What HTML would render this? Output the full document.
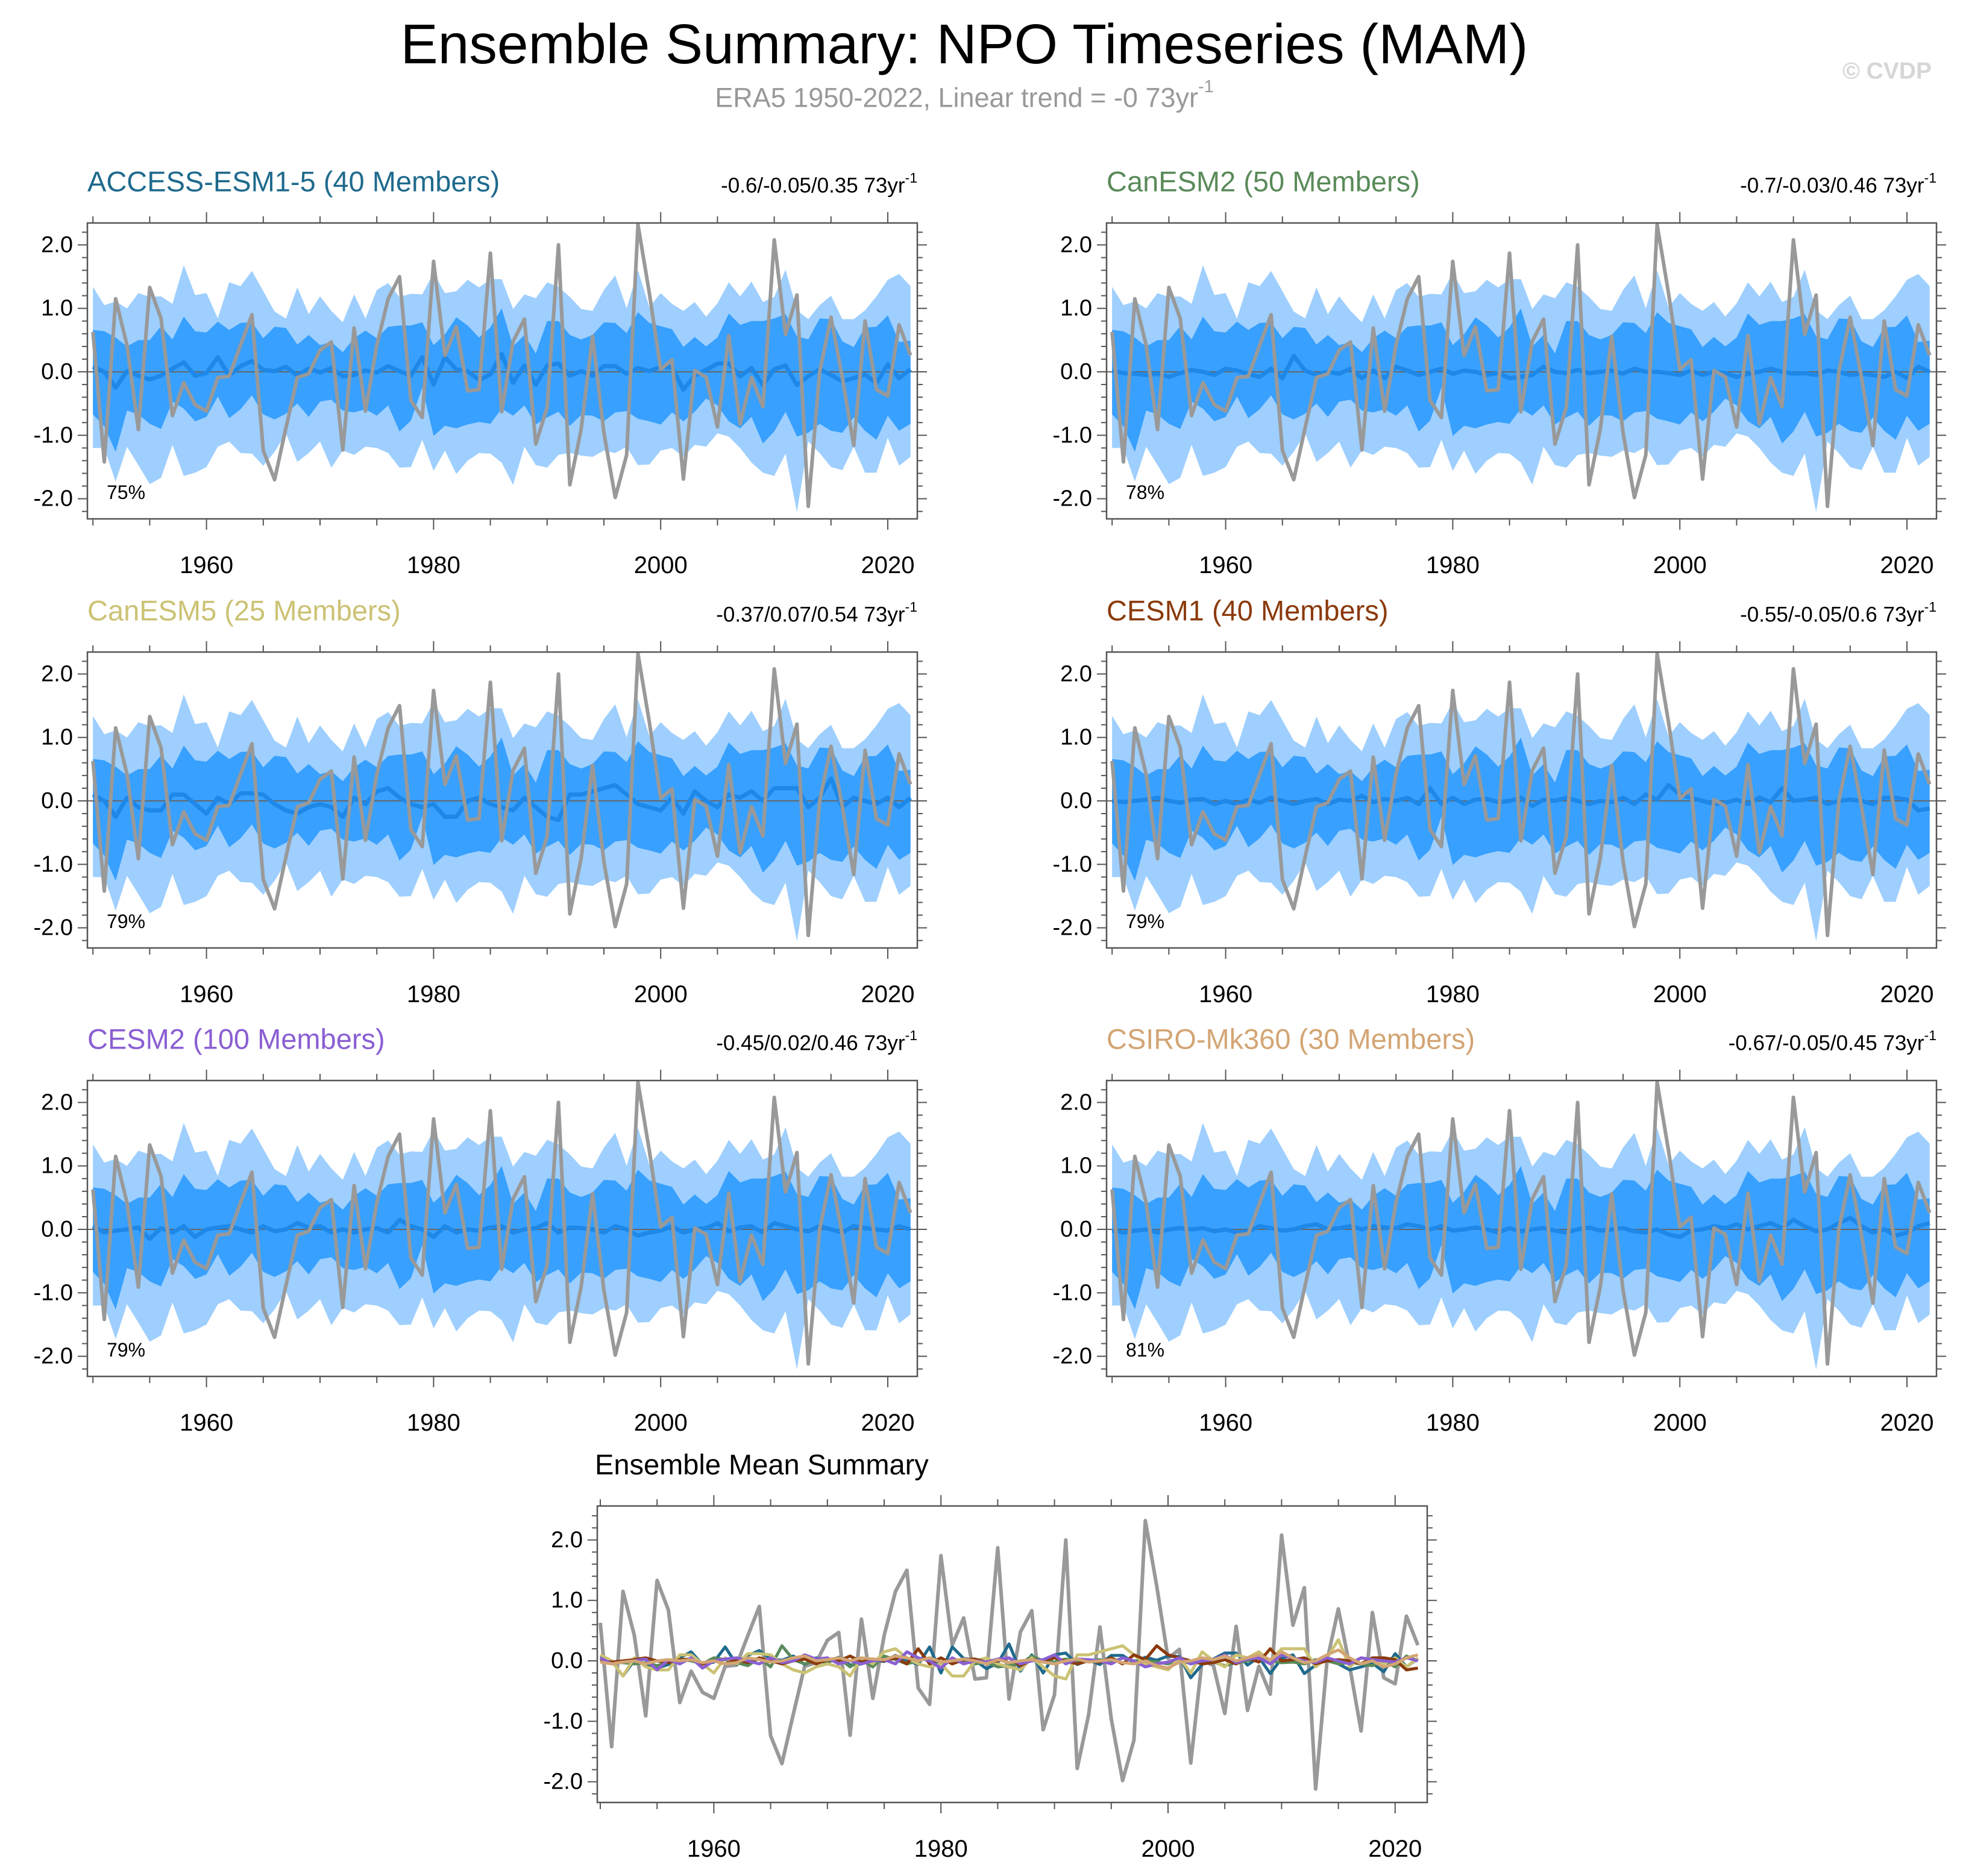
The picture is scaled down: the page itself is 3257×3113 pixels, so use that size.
<!DOCTYPE html>
<html><head><meta charset="utf-8"><style>
html,body{margin:0;padding:0;background:#fff;}
svg{display:block;font-family:"Liberation Sans",Arial,sans-serif;}
</style></head><body>
<svg id="chart" width="3257" height="3113" viewBox="0 0 3257 3113" xmlns="http://www.w3.org/2000/svg">
<rect width="3257" height="3113" fill="#fff"/>
<text x="1600" y="73" font-size="93" text-anchor="middle" dominant-baseline="central" fill="#000">Ensemble Summary: NPO Timeseries (MAM)</text>
<text x="1600" y="162" font-size="45" text-anchor="middle" dominant-baseline="central" fill="#999">ERA5 1950-2022, Linear trend = -0 73yr<tspan dy="-18" font-size="29">-1</tspan></text>
<text x="3205" y="118" font-size="39" font-weight="bold" text-anchor="end" dominant-baseline="central" fill="#d6d6d6">© CVDP</text>
<g id="plots"></g>
</svg>
<script>
const years = [];
for (let yr = 1950; yr <= 2022; yr++) years.push(yr);
const era5 = [0.63,-1.42,1.15,0.42,-0.91,1.33,0.84,-0.69,-0.17,-0.52,
-0.62,-0.09,-0.07,0.42,0.90,-1.24,-1.70,-0.88,-0.09,-0.03,
0.34,0.47,-1.23,0.69,-0.62,0.42,1.15,1.50,-0.45,-0.72,
1.74,0.26,0.71,-0.30,-0.28,1.87,-0.63,0.48,0.83,-1.14,
-0.56,2.00,-1.78,-0.9,0.56,-0.96,-1.98,-1.31,2.32,1.24,
0.04,0.19,-1.69,0.02,-0.08,-0.87,0.57,-0.82,-0.09,-0.55,
2.08,0.59,1.21,-2.12,0.0,0.86,-0.09,-1.16,0.80,-0.28,
-0.38,0.74,0.26];
const bandOuterHi = [1.34,1.05,1.11,1.0,1.24,1.18,1.19,1.07,1.68,1.21,1.24,0.84,1.41,1.35,1.59,1.27,0.95,0.84,1.33,0.91,1.19,0.96,0.78,1.22,0.84,1.29,1.40,1.18,1.23,1.22,1.56,1.24,1.27,1.45,1.33,1.46,1.46,
0.99,1.22,1.16,1.41,1.34,1.18,0.99,0.96,1.29,1.52,1.0,1.60,1.02,1.24,1.07,0.96,1.10,0.87,1.08,1.41,1.19,1.42,1.10,1.18,1.61,0.97,0.83,1.05,1.20,0.83,0.83,0.97,1.19,1.45,1.54,1.35];
const bandOuterLo = [-1.20,-1.20,-1.73,-1.18,-1.47,-1.77,-1.67,-1.15,-1.64,-1.59,-1.50,-1.18,-1.10,-1.28,-1.29,-1.48,-1.26,-0.97,-1.42,-1.28,-1.10,-1.51,-1.24,-1.31,-1.18,-1.20,-1.28,-1.51,-1.50,-1.07,-1.56,-1.24,-1.61,-1.40,-1.28,-1.29,-1.43,
-1.78,-1.18,-1.47,-1.51,-1.31,-1.28,-1.32,-1.34,-1.24,-1.28,-1.18,-1.47,-1.46,-1.24,-1.20,-1.34,-1.15,-1.18,-0.97,-1.02,-1.20,-1.43,-1.59,-1.64,-1.29,-2.21,-1.10,-1.28,-1.50,-1.55,-1.18,-1.59,-1.59,-1.04,-1.48,-1.34];
const bandInnerHi = [0.66,0.64,0.54,0.40,0.50,0.50,0.72,0.51,0.87,0.64,0.62,0.79,0.66,0.77,0.78,0.53,0.71,0.69,0.43,0.58,0.42,0.47,0.31,0.53,0.65,0.53,0.71,0.73,0.73,0.78,0.42,0.59,0.86,0.73,0.54,0.70,1.0,
0.40,0.58,0.29,0.80,0.80,0.58,0.51,0.58,0.78,0.77,0.61,0.94,0.77,0.72,0.67,0.39,0.55,0.40,0.54,0.92,0.74,0.80,0.80,0.84,0.91,0.56,0.51,0.84,0.83,0.48,0.39,0.70,0.71,0.89,0.47,0.49];
const bandInnerLo = [-0.67,-0.86,-1.26,-0.61,-0.67,-0.82,-0.90,-0.47,-0.58,-0.78,-0.71,-0.39,-0.73,-0.59,-0.37,-0.67,-0.75,-0.66,-0.50,-0.71,-0.47,-0.44,-0.61,-0.64,-0.59,-0.69,-0.53,-0.94,-0.77,-0.25,-1.01,-0.85,-0.89,-0.83,-0.79,-0.82,-0.58,
-0.69,-0.53,-0.83,-0.72,-0.63,-0.85,-0.68,-0.69,-0.78,-0.64,-0.62,-0.74,-0.78,-0.83,-0.64,-0.78,-0.63,-0.42,-0.53,-0.78,-0.89,-0.71,-1.13,-0.94,-0.63,-1.02,-0.96,-0.82,-0.93,-0.96,-0.72,-0.93,-1.07,-0.69,-0.93,-0.82];
const meanAccess = [0.08,0.0,-0.25,0.01,-0.06,-0.12,-0.06,0.05,0.15,-0.06,-0.02,0.23,-0.06,0.09,0.17,0.03,0.01,0.08,-0.06,0.05,-0.01,0.06,-0.07,-0.05,0.02,-0.01,0.09,0.01,-0.06,0.23,-0.2,0.23,0.04,0.01,-0.13,-0.04,0.28,
-0.17,0.10,-0.2,0.10,0.13,-0.06,0.01,-0.06,0.09,0.09,-0.03,0.06,0.01,0.08,0.07,-0.28,-0.06,0.03,0.13,0.13,-0.07,0.06,-0.21,0.04,0.10,-0.21,-0.07,0.04,-0.05,-0.15,-0.10,-0.04,-0.18,0.12,-0.10,0.04];
const meanCanESM2 = [0.02,-0.02,-0.03,-0.05,-0.03,-0.08,-0.02,0.03,0.0,-0.05,0.05,0.02,-0.03,-0.08,0.05,-0.1,0.25,0.02,-0.05,0.0,-0.03,0.05,-0.1,0.02,-0.1,0.08,0.02,-0.05,0.0,0.05,-0.03,0.02,0.0,-0.05,-0.02,-0.1,-0.08,-0.05,0.08,0.0,-0.02,0.03,-0.02,0.0,0.02,-0.03,0.05,0.0,0.0,-0.02,-0.05,0.02,-0.05,0.0,-0.02,-0.08,-0.03,0.0,0.05,0.0,-0.03,-0.02,-0.05,0.02,0.0,-0.05,-0.03,-0.05,-0.08,0.0,-0.1,0.08,0.0];
const meanCanESM5 = [0.1,0.0,-0.25,0.05,-0.1,-0.15,-0.15,0.1,0.1,-0.05,-0.2,0.05,-0.05,0.12,0.12,0.1,-0.05,-0.15,-0.2,-0.1,-0.05,-0.1,-0.25,0.05,-0.05,0.15,0.2,0.05,-0.05,-0.1,-0.05,-0.25,-0.25,0.0,0.05,-0.05,-0.1,-0.15,0.05,-0.1,-0.25,-0.3,0.1,0.1,0.15,0.2,0.25,0.1,-0.05,-0.1,-0.15,0.05,-0.2,0.15,0.0,-0.1,0.1,0.05,0.15,0.0,0.2,0.2,0.2,-0.1,0.05,0.35,-0.1,0.05,0.0,-0.05,0.05,-0.1,0.05];
const meanCESM1 = [0.0,-0.02,0.0,0.02,0.05,0.0,-0.03,0.02,0.03,-0.05,0.0,-0.05,0.02,-0.03,0.05,0.0,-0.05,0.0,0.03,-0.05,0.02,0.0,0.08,-0.02,0.03,0.0,0.05,-0.05,0.2,-0.05,0.05,-0.05,0.02,0.03,-0.02,0.0,0.05,-0.08,0.02,0.0,0.05,0.0,-0.05,0.0,-0.02,0.05,-0.05,0.1,0.02,0.25,0.1,0.05,0.0,-0.05,-0.03,0.02,-0.05,0.05,-0.02,0.2,0.0,0.02,0.05,-0.05,0.0,0.02,0.0,-0.05,0.05,0.05,0.02,-0.15,-0.12];
const meanCESM2 = [0.05,-0.05,-0.02,0.0,0.03,-0.15,0.02,-0.05,0.05,-0.12,0.0,0.03,0.05,0.0,-0.05,0.05,-0.03,0.0,0.1,0.03,0.05,-0.05,0.0,-0.05,0.0,0.02,-0.05,0.15,0.05,0.0,-0.12,0.05,-0.05,0.0,-0.02,0.03,0.05,-0.05,0.0,0.02,0.1,-0.05,0.03,0.02,0.0,-0.05,0.05,0.0,-0.1,-0.05,-0.02,0.05,-0.05,0.0,0.02,0.1,-0.03,0.03,0.05,-0.05,0.1,0.05,0.0,-0.03,0.05,0.0,-0.05,0.05,0.02,0.0,-0.02,0.05,0.0];
const meanCSIRO = [-0.02,-0.05,-0.02,0.0,-0.05,0.0,0.02,0.0,0.02,-0.03,0.0,-0.05,-0.03,0.05,0.02,-0.02,0.0,0.05,0.08,0.0,0.02,0.05,0.0,0.05,0.03,0.02,0.08,0.05,0.0,0.05,-0.02,0.0,0.03,0.0,-0.05,0.02,-0.03,0.0,0.02,-0.02,-0.05,0.0,0.03,-0.02,0.0,0.02,-0.03,-0.05,0.0,-0.08,-0.12,-0.02,0.0,0.05,0.02,0.08,0.0,0.05,0.1,0.02,0.15,0.05,-0.03,0.0,0.1,0.18,0.05,-0.05,0.0,-0.1,-0.05,0.05,0.1];
const yTicks = [-2, -1, 0, 1, 2];
const yTickLabels = ["-2.0", "-1.0", "0.0", "1.0", "2.0"];
const xTicks = [1960, 1980, 2000, 2020];

const models = [
  {name:"ACCESS-ESM1-5 (40 Members)", color:"#1f6a8d", stats:"-0.6/-0.05/0.35 73yr", pct:"75%", mean:meanAccess, slug:"access-esm1-5"},
  {name:"CanESM2 (50 Members)", color:"#5a8a5a", stats:"-0.7/-0.03/0.46 73yr", pct:"78%", mean:meanCanESM2, slug:"canesm2"},
  {name:"CanESM5 (25 Members)", color:"#cbc274", stats:"-0.37/0.07/0.54 73yr", pct:"79%", mean:meanCanESM5, slug:"canesm5"},
  {name:"CESM1 (40 Members)", color:"#8b3a0c", stats:"-0.55/-0.05/0.6 73yr", pct:"79%", mean:meanCESM1, slug:"cesm1"},
  {name:"CESM2 (100 Members)", color:"#8a5fd3", stats:"-0.45/0.02/0.46 73yr", pct:"79%", mean:meanCESM2, slug:"cesm2"},
  {name:"CSIRO-Mk360 (30 Members)", color:"#d3a574", stats:"-0.67/-0.05/0.45 73yr", pct:"81%", mean:meanCSIRO, slug:"csiro-mk360"}
];
const NS = "http://www.w3.org/2000/svg";
const root = document.getElementById("plots");
function mk(tag, attrs, parent){ const e=document.createElementNS(NS,tag); for(const k in attrs) e.setAttribute(k,attrs[k]); (parent||root).appendChild(e); return e; }

function makeAxes(bx, by, bw, bh, zeroOff, unit, x1950Off, grp){
  const xs = yr => bx + x1950Off + (yr-1950)*18.84;
  const ys = v => by + zeroOff - v*unit;
  for (let i=-12;i<=12;i++){
    const v=i*0.2; const y=ys(v);
    if (y<by-1||y>by+bh+1) continue;
    const major = Math.abs(v-Math.round(v))<1e-6;
    const L = major?16:9;
    const t1=mk("line",{x1:bx-L,x2:bx,y1:y,y2:y,stroke:"#555","stroke-width":2},grp);
    
    
    const t2=mk("line",{x1:bx+bw,x2:bx+bw+L,y1:y,y2:y,stroke:"#555","stroke-width":2},grp);
    
    
  }
  yTicks.forEach((v,i)=>{
    const t=mk("text",{x:bx-24,y:ys(v),"font-size":38,"text-anchor":"end","dominant-baseline":"central",fill:"#000"},grp);
    t.textContent=yTickLabels[i];
    
    
  });
  for (let yr=1950; yr<=2020; yr+=5){
    const x=xs(yr); const major = xTicks.includes(yr); const L=major?18:11;
    const b=mk("line",{x1:x,x2:x,y1:by+bh,y2:by+bh+L,stroke:"#555","stroke-width":2},grp);
    
    
    const t=mk("line",{x1:x,x2:x,y1:by-L,y2:by,stroke:"#555","stroke-width":2},grp);
    
    
  }
  xTicks.forEach(yr=>{
    const t=mk("text",{x:xs(yr),y:by+bh+77,"font-size":40,"text-anchor":"middle","dominant-baseline":"central",fill:"#000"},grp);
    t.textContent=String(yr);
    
    
  });
  return {xs, ys};
}
function pathOf(arr, xs, ys){ return arr.map((v,i)=>(i?"L":"M")+xs(years[i]).toFixed(1)+","+ys(v).toFixed(1)).join(""); }
function bandOf(hi, lo, xs, ys){
  let d = hi.map((v,i)=>(i?"L":"M")+xs(years[i]).toFixed(1)+","+ys(v).toFixed(1)).join("");
  for (let i=lo.length-1;i>=0;i--) d += "L"+xs(years[i]).toFixed(1)+","+ys(lo[i]).toFixed(1);
  return d+"Z";
}

const colX=[145,1836], rowY=[370,1082,1793], BW=1377, BH=491;
models.forEach((m,idx)=>{
  const bx=colX[idx%2], by=rowY[Math.floor(idx/2)];
  const g=mk("g",{});
  
  
  const ttl=mk("text",{x:bx,y:by-69,"font-size":47,fill:m.color,"dominant-baseline":"central"},g);
  ttl.textContent=m.name;
  
  
  const st=mk("text",{x:bx+BW,y:by-62,"font-size":35,"text-anchor":"end","dominant-baseline":"central",fill:"#000"},g);
  st.textContent=m.stats;
  const sup=mk("tspan",{dy:-13,"font-size":23},st); sup.textContent="-1";
  
  
  const ax=makeAxes(bx,by,BW,BH,247,105.3,9.2,g);
  const cp="clip"+idx;
  const cl=mk("clipPath",{id:cp},g); mk("rect",{x:bx,y:by,width:BW,height:BH},cl);
  const body=mk("g",{"clip-path":"url(#"+cp+")"},g);
  const o=mk("path",{d:bandOf(bandOuterHi,bandOuterLo,ax.xs,ax.ys),fill:"#9ecffe"},body);
  
  
  const inn=mk("path",{d:bandOf(bandInnerHi,bandInnerLo,ax.xs,ax.ys),fill:"#38a0fe"},body);
  
  
  const z=mk("line",{x1:bx,x2:bx+BW,y1:ax.ys(0),y2:ax.ys(0),stroke:"#666","stroke-width":2},body);
  
  
  const ml=mk("path",{d:pathOf(m.mean,ax.xs,ax.ys),fill:"none",stroke:"#1e88e8","stroke-width":7,"stroke-linejoin":"round"},body);
  
  
  const ol=mk("path",{d:pathOf(era5,ax.xs,ax.ys),fill:"none",stroke:"#999","stroke-width":6,"stroke-linejoin":"round"},body);
  
  
  const box=mk("rect",{x:bx,y:by,width:BW,height:BH,fill:"none",stroke:"#555","stroke-width":2.5},g);
  
  
  const pc=mk("text",{x:bx+32,y:by+447,"font-size":32,fill:"#000","dominant-baseline":"central"},g);
  pc.textContent=m.pct;
  
  
});

(function(){
  const bx=991, by=2499, bw=1377, bh=492;
  const g=mk("g",{});
  
  
  const ttl=mk("text",{x:987,y:2430,"font-size":47,fill:"#000","dominant-baseline":"central"},g);
  ttl.textContent="Ensemble Mean Summary";
  
  
  const ax=makeAxes(bx,by,bw,bh,257,100.3,5,g);
  const ol=mk("path",{d:pathOf(era5,ax.xs,ax.ys),fill:"none",stroke:"#999","stroke-width":6,"stroke-linejoin":"round"},g);
  
  
  models.forEach(m=>{
    const l=mk("path",{d:pathOf(m.mean,ax.xs,ax.ys),fill:"none",stroke:m.color,"stroke-width":5,"stroke-linejoin":"round"},g);
    
    
  });
  const box=mk("rect",{x:bx,y:by,width:bw,height:bh,fill:"none",stroke:"#555","stroke-width":2.5},g);
  
  
})();
</script>
</body></html>
